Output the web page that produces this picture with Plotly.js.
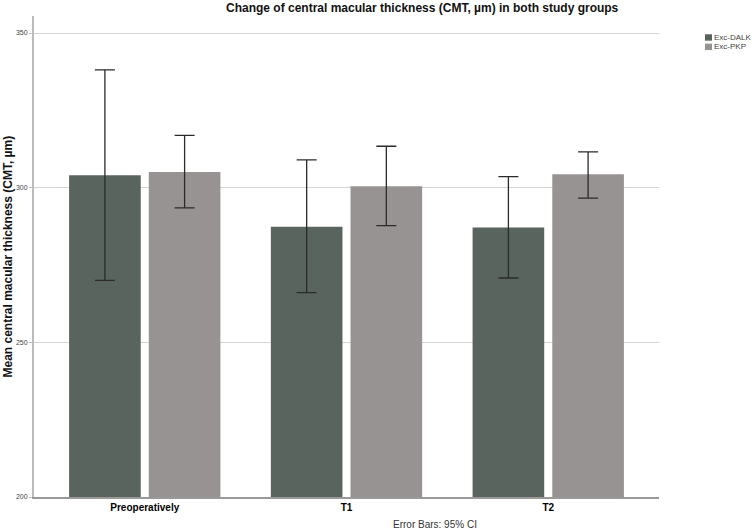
<!DOCTYPE html>
<html>
<head>
<meta charset="utf-8">
<script src="https://cdn.plot.ly/plotly-3.0.1.min.js"></script>
<style>html,body{margin:0;padding:0;background:#fff}#chart{width:752px;height:532px}</style>
</head>
<body>
<div id="chart"></div>
<script>
var categories = ["Preoperatively", "T1", "T2"];
var seriesNames = ["Exc-DALK", "Exc-PKP"];
var seriesColors = ["#5a645e", "#979392"];
var dalkMean = [304.0, 287.4, 287.1];
var dalkUpper = [338.1, 309.0, 303.6];
var dalkLower = [270.0, 266.1, 270.8];
var pkpMean = [305.1, 300.5, 304.3];
var pkpUpper = [316.9, 313.4, 311.6];
var pkpLower = [293.5, 287.7, 296.6];
var yTicks = [200, 250, 300, 350];

function diff(a, b) { return a.map(function (v, i) { return v - b[i]; }); }

var errStyle = {color: '#2b2b2b', thickness: 1.3, width: 10};

var traces = [
  {
    type: 'bar', name: seriesNames[0], x: categories, y: dalkMean,
    width: 0.355, offset: -0.375,
    marker: {color: seriesColors[0], line: {width: 0}},
    error_y: Object.assign({type: 'data', symmetric: false,
      array: diff(dalkUpper, dalkMean), arrayminus: diff(dalkMean, dalkLower)}, errStyle),
    hoverinfo: 'none'
  },
  {
    type: 'bar', name: seriesNames[1], x: categories, y: pkpMean,
    width: 0.355, offset: 0.02,
    marker: {color: seriesColors[1], line: {width: 0}},
    error_y: Object.assign({type: 'data', symmetric: false,
      array: diff(pkpUpper, pkpMean), arrayminus: diff(pkpMean, pkpLower)}, errStyle),
    hoverinfo: 'none'
  }
];

// compact legend (Plotly's own legend rows are taller than the reference's)
var legendShapes = [], legendTexts = [];
var legTop = 0.962, legStep = 0.0195, legBox = 0.0133;
seriesNames.forEach(function (n, i) {
  var yTop = legTop - i * legStep;
  legendShapes.push({type: 'rect', xref: 'paper', yref: 'paper',
    x0: 1.0736, x1: 1.0848, y0: yTop - legBox, y1: yTop,
    fillcolor: seriesColors[i], line: {width: 0}});
  legendTexts.push({text: n, xref: 'paper', yref: 'paper', x: 1.0855, y: yTop - legBox / 2,
    xanchor: 'left', yanchor: 'middle', showarrow: false,
    font: {size: 8, color: '#444'}});
});

var layout = {
  width: 752, height: 532,
  margin: {l: 34, r: 93, t: 16, b: 35, autoexpand: false},
  paper_bgcolor: '#ffffff', plot_bgcolor: '#ffffff',
  font: {family: 'Liberation Sans, Arial, sans-serif', color: '#000'},
  showlegend: false,
  barmode: 'group',
  xaxis: {
    type: 'category', range: [-0.549, 2.549],
    showgrid: false, zeroline: false,
    showline: true, linecolor: '#999999', linewidth: 2,
    ticks: '', tickfont: {size: 10, color: '#000', family: 'Liberation Sans, Arial, sans-serif', weight: 'bold'},
    fixedrange: true
  },
  yaxis: {
    range: [200, 355.5], tickvals: yTicks, ticktext: yTicks.map(String),
    showgrid: true, gridcolor: '#d4d4d4', gridwidth: 1,
    zeroline: false, showline: true, linecolor: '#bbbbbb', linewidth: 2,
    ticks: 'outside', ticklen: 3, tickcolor: '#bbbbbb',
    tickfont: {size: 7, color: '#444'},
    fixedrange: true
  },
  shapes: legendShapes,
  annotations: [
    {text: '<b>Change of central macular thickness (CMT, µm) in both study groups</b>',
      xref: 'paper', yref: 'paper', x: 0.622, y: 1, yshift: 8, xanchor: 'center', yanchor: 'middle',
      showarrow: false, font: {size: 12, color: '#111'}},
    {text: '<b>Mean central macular thickness (CMT, µm)</b>',
      xref: 'paper', yref: 'paper', x: 0, xshift: -27, y: 0.5, xanchor: 'center', yanchor: 'middle',
      textangle: -90, showarrow: false, font: {size: 12, color: '#111'}},
    {text: 'Error Bars: 95% CI',
      xref: 'paper', yref: 'paper', x: 0.642, y: 0, yshift: -27, xanchor: 'center', yanchor: 'middle',
      showarrow: false, font: {size: 10, color: '#333'}}
  ].concat(legendTexts)
};

Plotly.newPlot('chart', traces, layout, {displayModeBar: false, staticPlot: true});
</script>
</body>
</html>
